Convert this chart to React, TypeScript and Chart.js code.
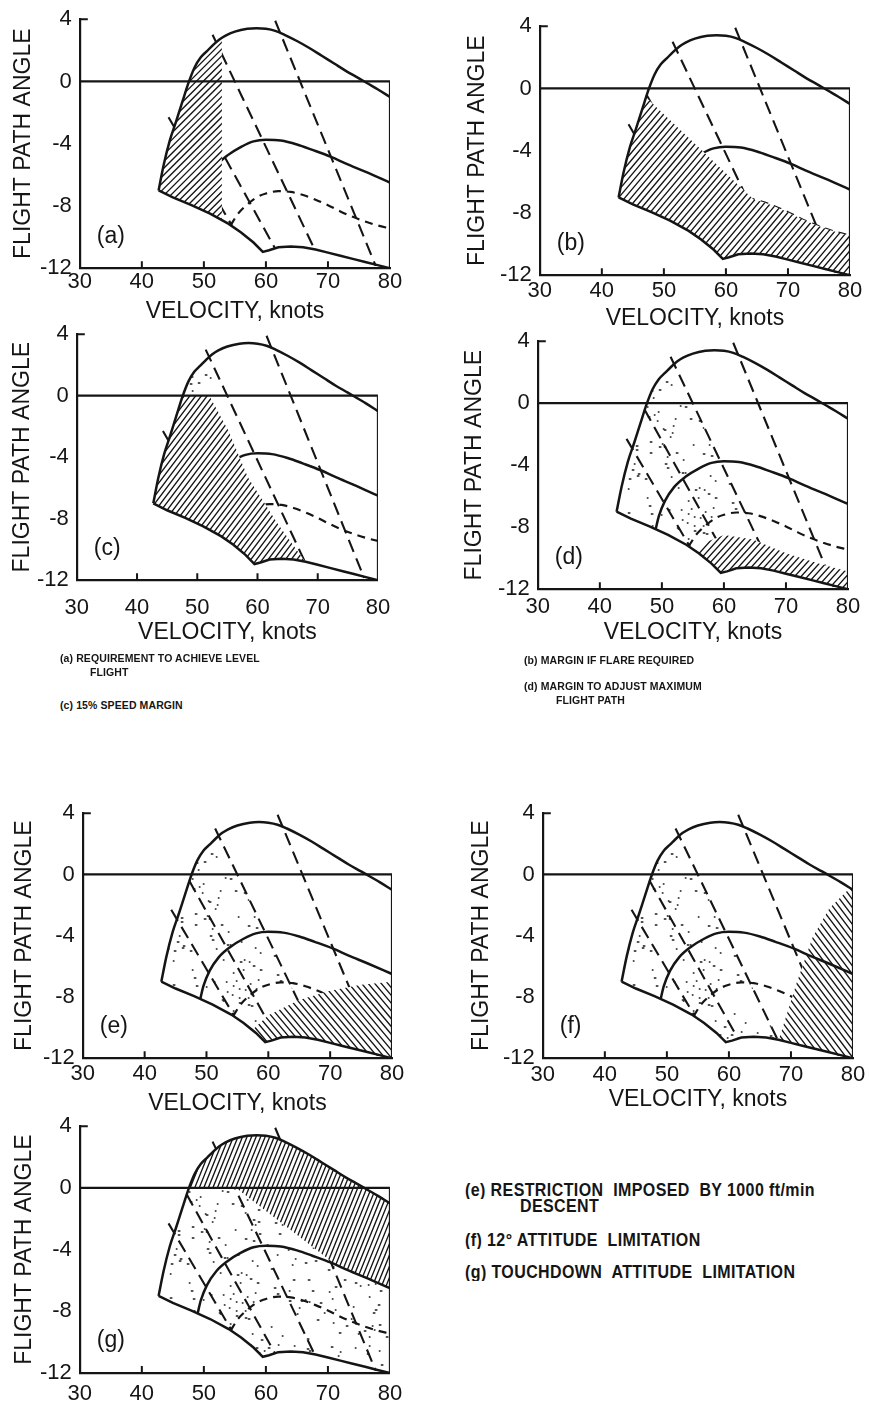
import React, { useEffect, useRef } from "react";
import { Chart, registerables } from "chart.js";
Chart.register(...registerables);

const FONT = "'Liberation Sans', Arial, Helvetica, sans-serif";
const INK = "#151515";

// ---------- data (velocity in knots, flight path angle in degrees) ----------
const upperV = [42.7, 43.5, 44.5, 45.5, 46.5, 47.6, 48.5, 49.5, 50.5, 51.5, 52.5, 53.5, 55, 57, 58.5, 60, 61.5, 63, 65, 67, 69, 71, 73, 75, 76.5, 78, 80];
const upperG = [-7.0, -5.4, -3.8, -2.6, -1.35, 0, 0.9, 1.55, 1.95, 2.35, 2.7, 2.95, 3.2, 3.38, 3.42, 3.38, 3.25, 3.0, 2.6, 2.15, 1.65, 1.15, 0.65, 0.2, -0.15, -0.5, -1.0];

const lowerV = [42.7, 45, 48, 51, 54, 56, 58, 59.5, 60.5, 62, 64, 66, 68, 70, 72, 74, 76, 78, 80];
const lowerG = [-7.0, -7.45, -7.95, -8.5, -9.15, -9.7, -10.35, -10.95, -10.85, -10.65, -10.6, -10.65, -10.8, -11.0, -11.2, -11.4, -11.6, -11.8, -12.0];

const midV = [49, 49.5, 50.5, 52, 53.8, 56, 58, 60, 62.4, 65, 67.5, 70.5, 73, 76, 80];
const midG = [-8.13, -7.3, -6.3, -5.4, -4.75, -4.2, -3.85, -3.75, -3.8, -4.05, -4.4, -4.85, -5.3, -5.8, -6.5];

const dashV = [54.3, 55.5, 57, 58.5, 60, 62, 64, 66, 68, 70, 72, 74, 76, 78, 80];
const dashG = [-9.25, -8.5, -7.9, -7.45, -7.2, -7.05, -7.1, -7.3, -7.6, -7.95, -8.35, -8.7, -9.0, -9.25, -9.45];

// attitude lines (dashed, straight)
const att1V = [44.3, 54.5];
const att1G = [-2.3, -9.25];
const att2V = [47.2, 61.5];
const att2G = [-0.4, -10.75];
const att3V = [51.4, 67.8];
const att3G = [3.0, -10.75];
const att4V = [61.5, 77.7];
const att4G = [3.9, -11.85];

// zero line and right frame
const frameV = [30, 80, 80];
const frameG = [0, 0, -12];

// boundaries of the shaded regions
const levelSpeed = 52.9; // (a)
const flareV = [38, 47.2, 64.5]; // (b)
const flareG = [2.8, -0.6, -7.15];
const speedV = [52.0, 55.2, 58.4, 63.3, 68.1, 69.5]; // (c)
const speedG = [0, -2.3, -5.3, -8.3, -10.9, -13];
const adjustV = [55.0, 57.5, 60, 64.7, 70.1, 75.4, 80, 81]; // (d)
const adjustG = [-9.7, -8.9, -8.5, -8.8, -9.7, -10.35, -10.85, -10.85];
const descentV = [56, 57.3, 60, 65, 70, 75, 80, 81]; // (e)
const descentG = [-10.8, -10.2, -9.2, -8.2, -7.6, -7.2, -7.0, -7.0];
const attLimV = [67.4, 68.2, 70.9, 73.5, 76.2, 79.0, 80.5, 81]; // (f)
const attLimG = [-13, -10.6, -7.1, -4.1, -2.2, -1.1, -0.6, -0.6];
const touchV = [55.2, 71.0]; // (g)
const touchG = [0, -4.9];

const xTickValues = [30, 40, 50, 60, 70, 80];
const xInnerTicks = [40, 50, 60, 70];
const yTickValues = [-12, -8, -4, 0, 4];

type Pt = [number, number];
const zip = (V: number[], G: number[]): Pt[] => V.map((v, i) => [v, G[i]] as Pt);

// x on attitude line 3 (L1) at a given angle
const l1X = (g: number) => att3V[0] + ((g - att3G[0]) * (att3V[1] - att3V[0])) / (att3G[1] - att3G[0]);

const envelope: Pt[] = [...zip(upperV, upperG), ...zip(lowerV, lowerG).reverse()];
const leftOfL1: Pt[] = [[30, 6], [l1X(6), 6], [l1X(-13), -13], [30, -13]];

const polyA: Pt[] = [[30, 6], [levelSpeed, 6], [levelSpeed, -13], [30, -13]];
const polyB: Pt[] = [
  ...zip(flareV, flareG),
  ...zip(dashV, dashG).filter((p) => p[0] > flareV[2]),
  [81, dashG[dashG.length - 1]], [81, -13], [flareV[0], -13],
];
const polyC: Pt[] = [[30, 0], ...zip(speedV, speedG), [30, -13]];
const stipC: Pt[] = [[30, 0], [l1X(0), 0], [l1X(6), 6], [30, 6]];
const polyD: Pt[] = [[adjustV[0], -13], ...zip(adjustV, adjustG), [81, -13]];
const polyE: Pt[] = [[descentV[0], -13], ...zip(descentV, descentG), [81, -13]];
const polyF: Pt[] = [...zip(attLimV, attLimG), [81, -13]];
const polyG: Pt[] = [
  [30, 6], [81, 6], [81, midG[midG.length - 1]],
  ...zip(midV, midG).filter((p) => p[0] > touchV[1]).reverse(),
  [touchV[1], touchG[1]], [touchV[0], touchG[0]], [30, 0],
];
const stipG: Pt[] = [[30, 0], [81, 0], [81, -13], [30, -13]];

type Panel = {
  id: string; L: number; T: number; R: number; B: number;
  gap: number; xLab: number; xTit: number | null;
  hatch: { poly: Pt[]; angle: number; spacing: number };
  stipple: Pt[] | null; midOver: boolean;
};

const panels: Panel[] = [
  { id: "a", L: 80, T: 18, R: 390, B: 268, gap: 56, xLab: 14, xTit: 43, hatch: { poly: polyA, angle: 45, spacing: 4.8 }, stipple: null, midOver: false },
  { id: "b", L: 540, T: 25, R: 850, B: 275, gap: 62, xLab: 16, xTit: 43, hatch: { poly: polyB, angle: 50, spacing: 4.8 }, stipple: null, midOver: false },
  { id: "c", L: 77, T: 333, R: 387, B: 580, gap: 54, xLab: 28, xTit: 52, hatch: { poly: polyC, angle: 53, spacing: 4.6 }, stipple: stipC, midOver: false },
  { id: "d", L: 538, T: 340, R: 848, B: 589, gap: 63, xLab: 18, xTit: 43, hatch: { poly: polyD, angle: 48, spacing: 4.8 }, stipple: leftOfL1, midOver: true },
  { id: "e", L: 83, T: 812, R: 392, B: 1058, gap: 58, xLab: 16, xTit: 45, hatch: { poly: polyE, angle: -50, spacing: 5.0 }, stipple: leftOfL1, midOver: true },
  { id: "f", L: 543, T: 812, R: 853, B: 1058, gap: 61, xLab: 17, xTit: 41, hatch: { poly: polyF, angle: -53, spacing: 5.0 }, stipple: leftOfL1, midOver: true },
  { id: "g", L: 80, T: 1125, R: 392, B: 1373, gap: 55, xLab: 21, xTit: null, hatch: { poly: polyG, angle: 68, spacing: 4.2 }, stipple: stipG, midOver: true },
];

function pathPoly(ctx: CanvasRenderingContext2D, chart: any, pts: Pt[]) {
  const xs = chart.scales.x, ys = chart.scales.y;
  ctx.beginPath();
  pts.forEach(([v, g], i) => {
    const x = xs.getPixelForValue(v), y = ys.getPixelForValue(g);
    if (i === 0) ctx.moveTo(x, y); else ctx.lineTo(x, y);
  });
  ctx.closePath();
}

function clipTo(ctx: CanvasRenderingContext2D, chart: any, poly: Pt[]) {
  const a = chart.chartArea;
  ctx.beginPath();
  ctx.rect(a.left, a.top, a.right - a.left, a.bottom - a.top);
  ctx.clip();
  pathPoly(ctx, chart, envelope);
  ctx.clip();
  pathPoly(ctx, chart, poly);
  ctx.clip();
}

function drawHatch(chart: any, h: Panel["hatch"]) {
  const ctx: CanvasRenderingContext2D = chart.ctx;
  const a = chart.chartArea;
  ctx.save();
  clipTo(ctx, chart, h.poly);
  ctx.fillStyle = "#ffffff";
  ctx.fillRect(a.left, a.top, a.right - a.left, a.bottom - a.top);
  const ang = (h.angle * Math.PI) / 180;
  const dx = Math.cos(ang), dy = -Math.sin(ang);
  const nx = -dy, ny = dx;
  const cx = (a.left + a.right) / 2, cy = (a.top + a.bottom) / 2;
  const diag = Math.hypot(a.right - a.left, a.bottom - a.top);
  ctx.beginPath();
  for (let k = -diag; k <= diag; k += h.spacing) {
    const px = cx + nx * k, py = cy + ny * k;
    ctx.moveTo(px - dx * diag, py - dy * diag);
    ctx.lineTo(px + dx * diag, py + dy * diag);
  }
  ctx.strokeStyle = INK;
  ctx.lineWidth = 1.35;
  ctx.stroke();
  ctx.restore();
}

function drawStipple(chart: any, poly: Pt[]) {
  const ctx: CanvasRenderingContext2D = chart.ctx;
  const a = chart.chartArea;
  ctx.save();
  clipTo(ctx, chart, poly);
  ctx.fillStyle = "#2a2a2a";
  const step = 7;
  let i = 0;
  for (let x = a.left; x < a.right; x += step, i++) {
    let j = 0;
    for (let y = a.top; y < a.bottom; y += step, j++) {
      let h = Math.imul(i + 17, 374761393) ^ Math.imul(j + 31, 668265263);
      h = Math.imul(h ^ (h >>> 13), 1274126177) >>> 0;
      if (h % 100 < 27) {
        ctx.fillRect(x + ((h >>> 8) % step), y + ((h >>> 12) % step), (h >>> 20) % 2 ? 2.6 : 1.7, 1.6);
      }
    }
  }
  ctx.restore();
}

function buildConfig(p: Panel): any {
  const tickFont = { family: FONT, size: 22 };
  const titleFont = { family: FONT, size: 23 };
  const yW = p.gap + 14.8;
  const xH = p.xTit !== null ? p.xTit + 14.8 : p.xLab + 16;
  const mk = (label: string, V: number[], G: number[], extra: any) => ({
    label,
    data: V.map((x, i) => ({ x, y: G[i] })),
    borderColor: INK,
    borderWidth: 2.5,
    pointRadius: 0,
    fill: false,
    tension: 0,
    ...extra,
  });
  const attDash = { order: 3, borderDash: [13, 7], borderWidth: 2.1 };
  const datasets = [
    mk("upper", upperV, upperG, { order: 1, cubicInterpolationMode: "monotone" }),
    mk("lower", lowerV, lowerG, { order: 1 }),
    mk("frame", frameV, frameG, { order: 1, borderWidth: 2.2 }),
    mk("middle", midV, midG, { order: p.midOver ? 1 : 3, cubicInterpolationMode: "monotone" }),
    mk("dashed", dashV, dashG, { order: 3, borderDash: [8, 6], borderWidth: 2.2, cubicInterpolationMode: "monotone" }),
    mk("att1", att1V, att1G, attDash),
    mk("att2", att2V, att2G, attDash),
    mk("att3", att3V, att3G, attDash),
    mk("att4", att4V, att4G, attDash),
  ];
  const art = {
    id: "panelArt",
    beforeDatasetsDraw(chart: any) {
      chart.$hatched = false;
      if (p.stipple) drawStipple(chart, p.stipple);
    },
    beforeDatasetDraw(chart: any, args: any) {
      const d = chart.data.datasets[args.index];
      if (!chart.$hatched && d.order === 1) {
        chart.$hatched = true;
        drawHatch(chart, p.hatch);
      }
    },
    afterDraw(chart: any) {
      const ctx: CanvasRenderingContext2D = chart.ctx;
      const a = chart.chartArea;
      const xs = chart.scales.x, ys = chart.scales.y;
      ctx.save();
      ctx.strokeStyle = INK;
      ctx.lineWidth = 2;
      ctx.beginPath();
      for (const v of xInnerTicks) {
        const px = xs.getPixelForValue(v);
        ctx.moveTo(px, a.bottom);
        ctx.lineTo(px, a.bottom - 7);
      }
      const py = ys.getPixelForValue(yTickValues[yTickValues.length - 1]);
      ctx.moveTo(a.left, py);
      ctx.lineTo(a.left + 8, py);
      ctx.stroke();
      ctx.fillStyle = INK;
      ctx.font = `23px ${FONT}`;
      ctx.textBaseline = "middle";
      ctx.textAlign = "left";
      ctx.fillText(`(${p.id})`, a.left + 17, a.bottom - 32);
      ctx.restore();
    },
  };
  return {
    type: "line",
    data: { datasets },
    plugins: [art],
    options: {
      animation: false,
      responsive: false,
      devicePixelRatio: 1,
      events: [],
      layout: { padding: { left: 0, top: 20, right: 18, bottom: 0 } },
      plugins: { legend: { display: false }, tooltip: { enabled: false } },
      scales: {
        x: {
          type: "linear",
          position: "bottom",
          min: xTickValues[0],
          max: xTickValues[xTickValues.length - 1],
          afterBuildTicks: (s: any) => { s.ticks = xTickValues.map((value) => ({ value })); },
          ticks: { autoSkip: false, maxRotation: 0, padding: p.xLab - 13.2, font: tickFont, color: INK },
          grid: { display: false, drawTicks: false },
          border: { display: true, color: INK, width: 2.2 },
          title: { display: p.xTit !== null, text: "VELOCITY, knots", font: titleFont, color: INK, padding: { top: 0, bottom: 1 } },
          afterFit: (s: any) => { s.height = xH; },
        },
        y: {
          type: "linear",
          position: "left",
          min: yTickValues[0],
          max: yTickValues[yTickValues.length - 1],
          afterBuildTicks: (s: any) => { s.ticks = yTickValues.map((value) => ({ value })); },
          ticks: { autoSkip: false, padding: 8, font: tickFont, color: INK },
          grid: { display: false, drawTicks: false },
          border: { display: true, color: INK, width: 2.2 },
          title: { display: true, text: "FLIGHT PATH ANGLE", font: titleFont, color: INK, padding: { top: 1, bottom: 0 } },
          afterFit: (s: any) => { s.width = yW; },
        },
      },
    },
  };
}

function PanelChart({ p }: { p: Panel }) {
  const ref = useRef<HTMLCanvasElement | null>(null);
  const yW = p.gap + 14.8;
  const xH = p.xTit !== null ? p.xTit + 14.8 : p.xLab + 16;
  const left = Math.round(p.L - yW);
  const top = p.T - 20;
  const w = Math.round(p.R - p.L + yW + 18);
  const h = Math.round(p.B - p.T + 20 + xH);
  useEffect(() => {
    if (!ref.current) return;
    const chart = new Chart(ref.current, buildConfig(p));
    return () => chart.destroy();
  }, []);
  return (
    <canvas
      ref={ref}
      width={w}
      height={h}
      style={{ position: "absolute", left, top, width: w, height: h }}
    />
  );
}

type Caption = { text: string; left: number; cy: number; size: number };
const captions: Caption[] = [
  { text: "(a) REQUIREMENT TO ACHIEVE LEVEL", left: 60, cy: 658, size: 10.5 },
  { text: "FLIGHT", left: 90, cy: 672, size: 10.5 },
  { text: "(c) 15% SPEED MARGIN", left: 60, cy: 705, size: 10.5 },
  { text: "(b) MARGIN IF FLARE REQUIRED", left: 524, cy: 660, size: 10.5 },
  { text: "(d) MARGIN TO ADJUST MAXIMUM", left: 524, cy: 686, size: 10.5 },
  { text: "FLIGHT PATH", left: 556, cy: 700, size: 10.5 },
  { text: "(e) RESTRICTION  IMPOSED  BY 1000 ft/min", left: 465, cy: 1190, size: 16 },
  { text: "DESCENT", left: 520, cy: 1206, size: 16 },
  { text: "(f) 12° ATTITUDE  LIMITATION", left: 465, cy: 1240, size: 16 },
  { text: "(g) TOUCHDOWN  ATTITUDE  LIMITATION", left: 465, cy: 1272, size: 16 },
];

export default function App() {
  return (
    <div style={{ position: "absolute", left: 0, top: 0, width: 869, height: 1406, background: "#fff", overflow: "hidden" }}>
      {panels.map((p) => (
        <PanelChart key={p.id} p={p} />
      ))}
      {captions.map((c, i) => (
        <div
          key={i}
          style={{
            position: "absolute",
            left: c.left,
            top: c.cy - c.size * 0.6,
            fontFamily: FONT,
            fontWeight: "bold",
            fontSize: c.size,
            lineHeight: "1.2",
            whiteSpace: "pre",
            letterSpacing: c.size > 12 ? "0.4px" : "0.1px",
            color: INK,
            transform: "scaleY(1.1)",
          }}
        >
          {c.text}
        </div>
      ))}
    </div>
  );
}
